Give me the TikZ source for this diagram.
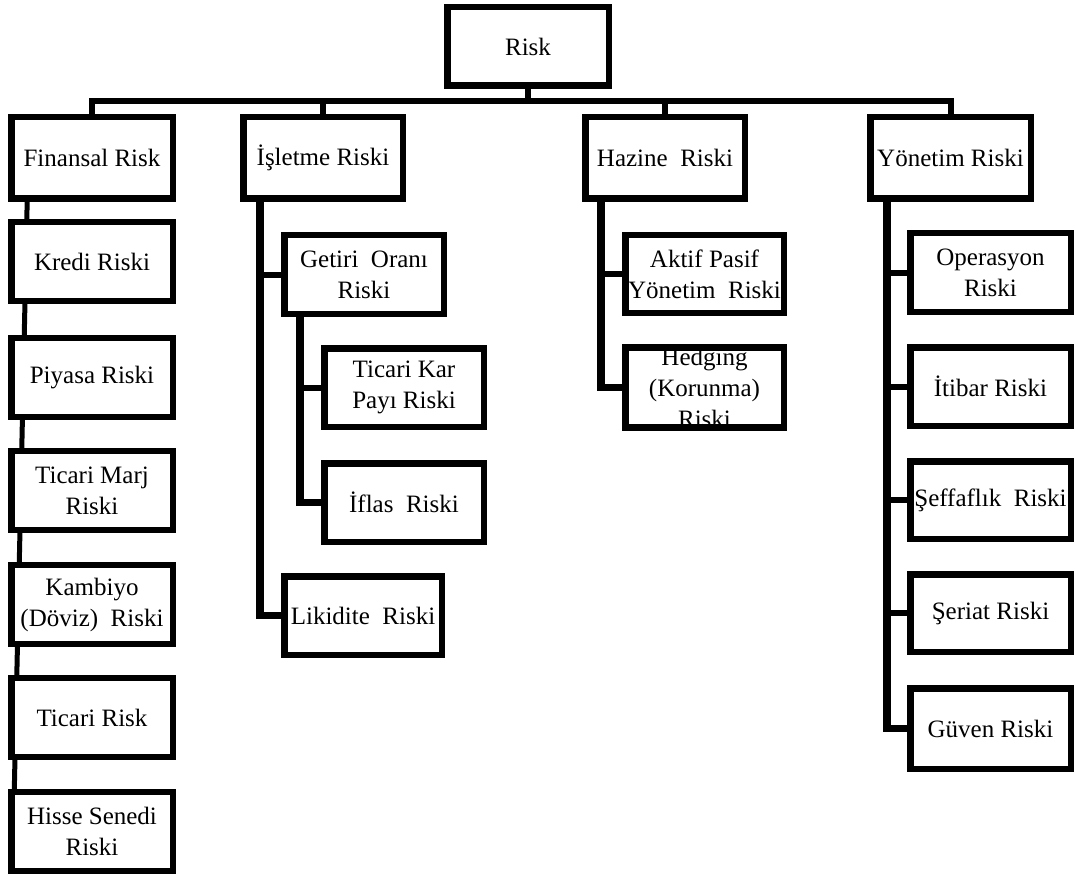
\documentclass[tikz,border=0pt]{standalone}
\usepackage{fontspec}
\setmainfont{Liberation Serif}
\usetikzlibrary{calc}
\pgfdeclarelayer{bg}
\pgfsetlayers{bg,main}
\begin{document}
\begin{tikzpicture}[x=1pt,y=-1pt,
  box/.style={draw, line width=6.5pt, fill=white, inner sep=0pt, outer sep=0pt,
    align=center, font=\fontsize{25}{31}\selectfont,
    minimum width=160pt, minimum height=79pt},
  conn/.style={line width=6pt},
  trunk/.style={line width=7.5pt},
  slant/.style={line width=5pt}]
\useasboundingbox (0,0) rectangle (1075,877);

% top and level 1
\node[box, minimum width=161.5pt, minimum height=78.5pt] (risk) at (528,46.5) {Risk};
\node[box, minimum width=161.5pt, minimum height=81.5pt] (fin) at (92,158) {Finansal Risk};
\node[box, minimum width=159.5pt, minimum height=81.5pt] (isl) at (323,158) {İşletme Riski};
\node[box, minimum width=159.5pt, minimum height=81.5pt] (haz) at (665,158) {Hazine\ \ Riski};
\node[box, minimum width=160.5pt, minimum height=81.5pt] (yon) at (950.5,158) {Yönetim Riski};

% Finansal column
\node[box, minimum width=161.5pt] (kre) at (92,261.5) {Kredi Riski};
\node[box, minimum width=161.5pt] (piy) at (92,377.5) {Piyasa Riski};
\node[box, minimum width=161.5pt] (tmr) at (92,490.5) {Ticari Marj\\Riski};
\node[box, minimum width=161.5pt] (kam) at (92,604.5) {Kambiyo\\(Döviz)\ \ Riski};
\node[box, minimum width=161.5pt] (tic) at (92,717.5) {Ticari Risk};
\node[box, minimum width=161.5pt] (his) at (92,831.5) {Hisse Senedi\\Riski};

% Isletme column
\node[box, minimum width=159.5pt, minimum height=78.5pt] (get) at (364,274.5) {Getiri\ \ Oranı\\Riski};
\node[box, minimum width=159.5pt, minimum height=78.5pt] (tkp) at (404,387.5) {Ticari Kar\\Payı Riski};
\node[box, minimum width=159.5pt, minimum height=78.5pt] (ifl) at (404,502.5) {İflas\ \ Riski};
\node[box, minimum width=157.5pt, minimum height=78.5pt] (lik) at (363,615.5) {Likidite\ \ Riski};

% Hazine column
\node[box, minimum width=158.5pt, minimum height=77.5pt] (akt) at (704.5,274) {Aktif Pasif\\Yönetim\ \ Riski};
\node[box, minimum width=158.5pt, minimum height=78.5pt] (hed) at (704.5,387.5) {Hedging\\(Korunma)\\Riski};
\draw[line width=6.5pt] (hed.north west) rectangle (hed.south east);

% Yonetim column
\node[box, minimum width=160.5pt, minimum height=78.5pt] (ope) at (990.5,272.5) {Operasyon\\Riski};
\node[box, minimum width=160.5pt, minimum height=78.5pt] (iti) at (990.5,386.5) {İtibar Riski};
\node[box, minimum width=160.5pt, minimum height=77.5pt] (sef) at (990.5,500) {Şeffaflık\ \ Riski};
\node[box, minimum width=160.5pt, minimum height=77.5pt] (ser) at (990.5,613) {Şeriat Riski};
\node[box, minimum width=160.5pt, minimum height=80.5pt] (guv) at (990.5,728.5) {Güven Riski};

\coordinate (bar) at (528,101);
\coordinate (t1) at (260,0);
\coordinate (t2) at (300,0);
\coordinate (t3) at (601,0);
\coordinate (t4) at (887,0);

\begin{pgfonlayer}{bg}
  \draw[conn] (risk.south) -- (bar);
  \draw[conn] (fin.north) |- (bar) -| (yon.north);
  \draw[conn] (isl.north) -- (isl.north |- bar);
  \draw[conn] (haz.north) -- (haz.north |- bar);
  % Finansal slanted line
  \draw[slant] ($(fin.south west)+(16,0)$) -- ($(his.north west)+(3,0)$);
  % Isletme
  \draw[trunk] (isl.south -| t1) |- (lik.west);
  \draw[conn] (t1 |- get.west) -- (get.west);
  \draw[trunk] (get.south -| t2) |- (ifl.west);
  \draw[conn] (t2 |- tkp.west) -- (tkp.west);
  % Hazine
  \draw[trunk] (haz.south -| t3) |- (hed.west);
  \draw[conn] (t3 |- akt.west) -- (akt.west);
  % Yonetim
  \draw[trunk] (yon.south -| t4) |- (guv.west);
  \draw[conn] (t4 |- ope.west) -- (ope.west);
  \draw[conn] (t4 |- iti.west) -- (iti.west);
  \draw[conn] (t4 |- sef.west) -- (sef.west);
  \draw[conn] (t4 |- ser.west) -- (ser.west);
\end{pgfonlayer}
\end{tikzpicture}
\end{document}
